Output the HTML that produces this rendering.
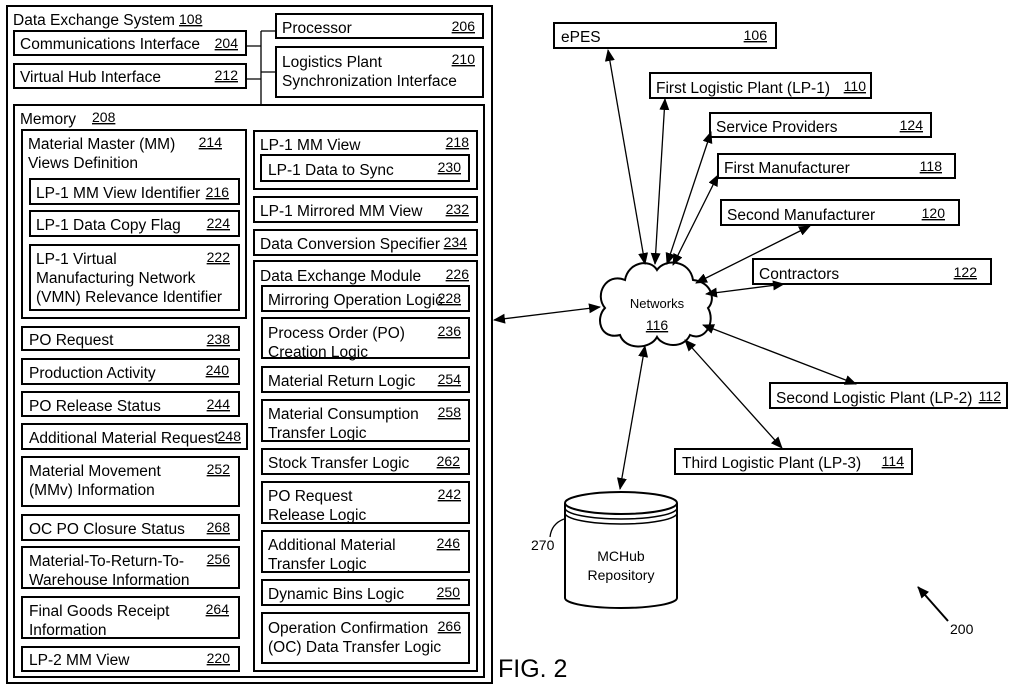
<!DOCTYPE html>
<html><head><meta charset="utf-8"><style>
html,body{margin:0;padding:0;background:#fff;}
svg{display:block;}
text{font-family:"Liberation Sans",sans-serif;fill:#000;}
.t{font-size:15.5px;}
.n{font-size:14px;text-decoration:underline;}
.b{fill:#fff;stroke:#000;stroke-width:2;}
.l{stroke:#000;stroke-width:1.3;fill:none;}
</style></head><body>
<svg width="1024" height="689" viewBox="0 0 1024 689" xmlns="http://www.w3.org/2000/svg">
<defs>
<marker id="a" markerWidth="12" markerHeight="10" refX="11" refY="5" orient="auto-start-reverse" markerUnits="userSpaceOnUse">
<path d="M0,0 L12,5 L0,10 z" fill="#000"/></marker>
</defs>
<rect x="7" y="6" width="485" height="677" fill="none" stroke="#000" stroke-width="2"/>
<text x="13" y="25" class="t">Data Exchange System</text><text x="179" y="24" class="n">108</text>
<path class="l" d="M246,46 H261 M246,79 H261 M261,31 V104 M261,31 H276 M261,72 H276" stroke-width="1.5"/>
<rect class="b" x="14" y="31" width="232" height="24"/><text x="20" y="49" class="t">Communications Interface</text><text x="238" y="48" class="n" text-anchor="end">204</text>
<rect class="b" x="14" y="64" width="232" height="24"/><text x="20" y="82" class="t">Virtual Hub Interface</text><text x="238" y="80" class="n" text-anchor="end">212</text>
<rect class="b" x="276" y="14" width="207" height="24"/><text x="282" y="33" class="t">Processor</text><text x="475" y="31" class="n" text-anchor="end">206</text>
<rect class="b" x="276" y="47" width="207" height="50"/><text x="282" y="67" class="t">Logistics Plant</text><text x="282" y="86" class="t">Synchronization Interface</text><text x="475" y="64" class="n" text-anchor="end">210</text>
<rect class="b" x="14" y="105" width="470" height="572"/>
<text x="20" y="124" class="t">Memory</text><text x="92" y="122" class="n">208</text>
<rect class="b" x="22" y="130" width="224" height="188"/>
<text x="28" y="149" class="t">Material Master (MM)</text><text x="28" y="168" class="t">Views Definition</text><text x="222" y="147" class="n" text-anchor="end">214</text>
<rect class="b" x="30" y="179" width="209" height="25"/><text x="36" y="198" class="t">LP-1 MM View Identifier</text><text x="229" y="197" class="n" text-anchor="end">216</text>
<rect class="b" x="30" y="211" width="209" height="25"/><text x="36" y="230" class="t">LP-1 Data Copy Flag</text><text x="230" y="228" class="n" text-anchor="end">224</text>
<rect class="b" x="30" y="245" width="209" height="65"/><text x="36" y="264" class="t">LP-1 Virtual</text><text x="36" y="283" class="t">Manufacturing Network</text><text x="36" y="302" class="t">(VMN) Relevance Identifier</text><text x="230" y="262" class="n" text-anchor="end">222</text>
<rect class="b" x="22" y="327" width="217" height="23"/><text x="29" y="345" class="t">PO Request</text><text x="230" y="344" class="n" text-anchor="end">238</text>
<rect class="b" x="22" y="359" width="217" height="25"/><text x="29" y="378" class="t">Production Activity</text><text x="229" y="375" class="n" text-anchor="end">240</text>
<rect class="b" x="22" y="392" width="217" height="24"/><text x="29" y="411" class="t">PO Release Status</text><text x="230" y="409" class="n" text-anchor="end">244</text>
<rect class="b" x="22" y="424" width="225" height="25"/><text x="29" y="443" class="t">Additional Material Request</text><text x="241" y="441" class="n" text-anchor="end">248</text>
<rect class="b" x="22" y="457" width="217" height="49"/><text x="29" y="476" class="t">Material Movement</text><text x="29" y="495" class="t">(MMv) Information</text><text x="230" y="474" class="n" text-anchor="end">252</text>
<rect class="b" x="22" y="515" width="217" height="25"/><text x="29" y="534" class="t">OC PO Closure Status</text><text x="230" y="532" class="n" text-anchor="end">268</text>
<rect class="b" x="22" y="547" width="217" height="41"/><text x="29" y="566" class="t">Material-To-Return-To-</text><text x="29" y="585" class="t">Warehouse Information</text><text x="230" y="564" class="n" text-anchor="end">256</text>
<rect class="b" x="22" y="597" width="217" height="41"/><text x="29" y="616" class="t">Final Goods Receipt</text><text x="29" y="635" class="t">Information</text><text x="229" y="614" class="n" text-anchor="end">264</text>
<rect class="b" x="22" y="647" width="217" height="24"/><text x="29" y="665" class="t">LP-2 MM View</text><text x="230" y="663" class="n" text-anchor="end">220</text>
<rect class="b" x="254" y="131" width="223" height="58"/><text x="260" y="150" class="t">LP-1 MM View</text><text x="469" y="147" class="n" text-anchor="end">218</text>
<rect class="b" x="261" y="155" width="208" height="26"/><text x="268" y="175" class="t">LP-1 Data to Sync</text><text x="461" y="172" class="n" text-anchor="end">230</text>
<rect class="b" x="254" y="197" width="223" height="25"/><text x="260" y="216" class="t">LP-1 Mirrored MM View</text><text x="469" y="214" class="n" text-anchor="end">232</text>
<rect class="b" x="254" y="230" width="223" height="25"/><text x="260" y="249" class="t">Data Conversion Specifier</text><text x="467" y="247" class="n" text-anchor="end">234</text>
<rect class="b" x="254" y="261" width="223" height="410"/><text x="260" y="281" class="t">Data Exchange Module</text><text x="469" y="279" class="n" text-anchor="end">226</text>
<rect class="b" x="262" y="286" width="207" height="25"/><text x="268" y="305" class="t">Mirroring Operation Logic</text><text x="461" y="303" class="n" text-anchor="end">228</text>
<rect class="b" x="262" y="318" width="207" height="40"/><text x="268" y="338" class="t">Process Order (PO)</text><text x="268" y="357" class="t">Creation Logic</text><text x="461" y="336" class="n" text-anchor="end">236</text>
<rect class="b" x="262" y="367" width="207" height="25"/><text x="268" y="386" class="t">Material Return Logic</text><text x="461" y="384" class="n" text-anchor="end">254</text>
<rect class="b" x="262" y="400" width="207" height="41"/><text x="268" y="419" class="t">Material Consumption</text><text x="268" y="438" class="t">Transfer Logic</text><text x="461" y="417" class="n" text-anchor="end">258</text>
<rect class="b" x="262" y="449" width="207" height="25"/><text x="268" y="468" class="t">Stock Transfer Logic</text><text x="460" y="466" class="n" text-anchor="end">262</text>
<rect class="b" x="262" y="482" width="207" height="41"/><text x="268" y="501" class="t">PO Request</text><text x="268" y="520" class="t">Release Logic</text><text x="461" y="499" class="n" text-anchor="end">242</text>
<rect class="b" x="262" y="531" width="207" height="41"/><text x="268" y="550" class="t">Additional Material</text><text x="268" y="569" class="t">Transfer Logic</text><text x="460" y="548" class="n" text-anchor="end">246</text>
<rect class="b" x="262" y="580" width="207" height="25"/><text x="268" y="599" class="t">Dynamic Bins Logic</text><text x="460" y="597" class="n" text-anchor="end">250</text>
<rect class="b" x="262" y="613" width="207" height="50"/><text x="268" y="633" class="t">Operation Confirmation</text><text x="268" y="652" class="t">(OC) Data Transfer Logic</text><text x="461" y="631" class="n" text-anchor="end">266</text>
<rect class="b" x="554" y="23" width="222" height="25"/><text x="561" y="42" class="t">ePES</text><text x="767" y="40" class="n" text-anchor="end">106</text>
<rect class="b" x="650" y="73" width="221" height="25"/><text x="656" y="93" class="t">First Logistic Plant (LP-1)</text><text x="866" y="91" class="n" text-anchor="end">110</text>
<rect class="b" x="710" y="113" width="221" height="24"/><text x="716" y="132" class="t">Service Providers</text><text x="923" y="130" class="n" text-anchor="end">124</text>
<rect class="b" x="718" y="154" width="237" height="24"/><text x="724" y="173" class="t">First Manufacturer</text><text x="942" y="171" class="n" text-anchor="end">118</text>
<rect class="b" x="721" y="200" width="238" height="25"/><text x="727" y="220" class="t">Second Manufacturer</text><text x="945" y="218" class="n" text-anchor="end">120</text>
<rect class="b" x="753" y="259" width="238" height="25"/><text x="759" y="279" class="t">Contractors</text><text x="977" y="277" class="n" text-anchor="end">122</text>
<rect class="b" x="770" y="383" width="237" height="25"/><text x="776" y="403" class="t">Second Logistic Plant (LP-2)</text><text x="1001" y="401" class="n" text-anchor="end">112</text>
<rect class="b" x="675" y="449" width="237" height="25"/><text x="682" y="468" class="t">Third Logistic Plant (LP-3)</text><text x="904" y="466" class="n" text-anchor="end">114</text>
<path d="M657,270 C665,258 690,260 693,280 C712,282 716,300 708,308 C716,322 705,342 690,335 C683,350 662,346 657,337 C650,350 625,350 620,335 C600,340 595,318 605,308 C594,295 606,272 625,280 C628,262 650,258 657,270 Z" fill="#fff" stroke="#000" stroke-width="2"/>
<text x="657" y="308" text-anchor="middle" style="font-size:13px">Networks</text>
<text x="657" y="330" text-anchor="middle" class="n" style="font-size:14px">116</text>
<g class="l" marker-start="url(#a)" marker-end="url(#a)">
<line x1="608" y1="50" x2="645" y2="264"/>
<line x1="665" y1="99" x2="655" y2="264"/>
<line x1="711" y1="132" x2="667" y2="264"/>
<line x1="718" y1="175" x2="673" y2="265"/>
<line x1="810" y1="226" x2="696" y2="283"/>
<line x1="784" y1="284" x2="706" y2="294"/>
<line x1="856" y1="384" x2="703" y2="325"/>
<line x1="782" y1="448" x2="685" y2="340"/>
<line x1="620" y1="489" x2="645" y2="346"/>
<line x1="494" y1="320" x2="600" y2="307"/>
</g>
<path d="M565,503 V598 A56,10 0 0 0 677,598 V503" fill="#fff" stroke="#000" stroke-width="2"/>
<ellipse cx="621" cy="503" rx="56" ry="11" fill="#fff" stroke="#000" stroke-width="2"/>
<path d="M565,508 A56,11 0 0 0 677,508 M565,513 A56,11 0 0 0 677,513" fill="none" stroke="#000" stroke-width="1.5"/>
<text x="621" y="561" text-anchor="middle" style="font-size:14px">MCHub</text>
<text x="621" y="580" text-anchor="middle" style="font-size:14px">Repository</text>
<path d="M564,519 C556,522 551,528 550,537" class="l" stroke-width="1"/>
<text x="531" y="550" style="font-size:14px">270</text>
<line x1="948" y1="621" x2="918" y2="587" stroke="#000" stroke-width="2" marker-end="url(#a)"/>
<text x="950" y="634" style="font-size:14px">200</text>
<text x="498" y="677" style="font-size:25px">FIG. 2</text>
</svg>
</body></html>
